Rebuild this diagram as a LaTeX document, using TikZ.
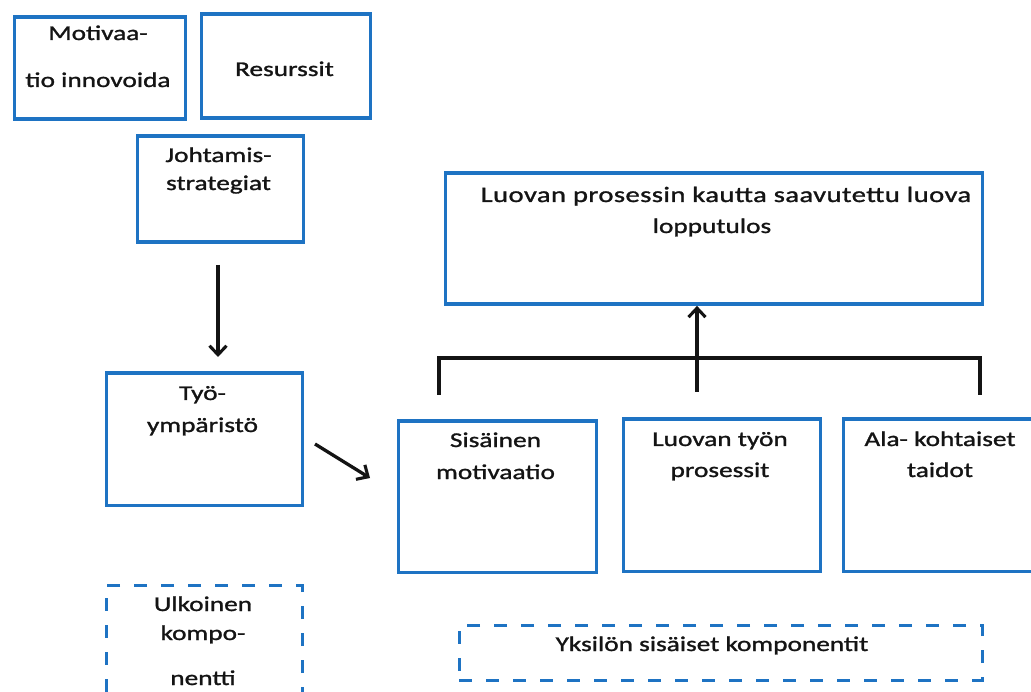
\documentclass[tikz,border=0pt]{standalone}
\usepackage{fontspec}
\setmainfont{Carlito}[FakeStretch=1.3,FakeBold=1.3]
\usetikzlibrary{arrows.meta}
\definecolor{boxblue}{RGB}{30,115,195}
\definecolor{ink}{RGB}{20,20,20}
\tikzset{
  box/.style={draw=boxblue, line width=3.4pt, rectangle, anchor=north west, inner sep=0pt},
  dbox/.style={box, line width=3.2pt, dash pattern=on 13pt off 14pt},
  lbl/.style={anchor=base, inner sep=0pt, text=ink, font=\fontsize{21pt}{25pt}\selectfont},
  conn/.style={draw=ink, line width=3.3pt},
  arr/.style={conn, -{Straight Barb[length=9pt,width=17pt,line width=3.1pt]}}
}
\begin{document}
\begin{tikzpicture}[x=1pt,y=-1pt]
\useasboundingbox (0,0) rectangle (1031,692);

% external factors (top left)
\node[box, minimum width=171pt, minimum height=102pt] (mot) at (12.5,15.5) {};
\node[box, minimum width=169pt, minimum height=104pt] (res) at (200,12.5) {};
\node[box, minimum width=166pt, minimum height=106pt] (joh) at (135.5,134.5) {};
\node[box, minimum width=196pt, minimum height=132pt] (tyo) at (104.5,371.5) {};

% individual components
\node[box, minimum width=198pt, minimum height=151pt] (sis) at (396.5,419.5) {};
\node[box, minimum width=197pt, minimum height=152pt] (luo) at (621.5,417.5) {};
\node[box, minimum width=200pt, minimum height=152pt] (ala) at (841.5,417.5) {};

% outcome
\node[box, minimum width=537pt, minimum height=131pt] (out) at (443.5,171.5) {};

% group captions
\node[dbox, minimum width=196pt, minimum height=108pt] (ulk) at (104.5,583.5) {};
\node[dbox, minimum width=523pt, minimum height=55pt] (yks) at (457.5,623.5) {};

% texts
\node[lbl] (mot1) at (98,40) {Motivaa-};
\node[lbl] (mot2) at (98,87) {tio innovoida};
\node[lbl] (res1) at (284.5,76) {Resurssit};
\node[lbl] (joh1) at (218.5,162) {Johtamis-};
\node[lbl] (joh2) at (218.5,190) {strategiat};
\node[lbl] (tyo1) at (202.5,400) {Työ-};
\node[lbl] (tyo2) at (202.5,432) {ympäristö};
\node[lbl] (sis1) at (495.5,447) {Sisäinen};
\node[lbl] (sis2) at (495.5,479) {motivaatio};
\node[lbl] (luo1) at (720,446) {Luovan työn};
\node[lbl] (luo2) at (720,477) {prosessit};
\node[lbl] (ala1) at (940,446) {Ala- kohtaiset};
\node[lbl] (ala2) at (940,477) {taidot};
\node[lbl, font=\fontsize{22pt}{26pt}\selectfont\addfontfeature{LetterSpace=2}] (out1) at (726,202) {Luovan prosessin kautta saavutettu luova};
\node[lbl] (out2) at (712,233) {lopputulos};
\node[lbl] (ulk1) at (203,611) {Ulkoinen};
\node[lbl] (ulk2) at (203,640) {kompo-};
\node[lbl] (ulk3) at (203,685) {nentti};
\node[lbl] (yks1) at (712,651) {Yksilön sisäiset komponentit};

% connectors
\coordinate (dtop) at (218,265);
\draw[arr] (dtop) -- (218,357);
\coordinate (diag) at (315,444);
\draw[arr] (diag) -- (370,478);

\coordinate (brL) at (439,395);
\coordinate (brR) at (980,395);
\coordinate (brM) at (697,392);
\draw[conn] (brL) |- (697,358) -| (brR);
\draw[arr] (brM) -- (out.south -| brM);
\end{tikzpicture}
\end{document}
